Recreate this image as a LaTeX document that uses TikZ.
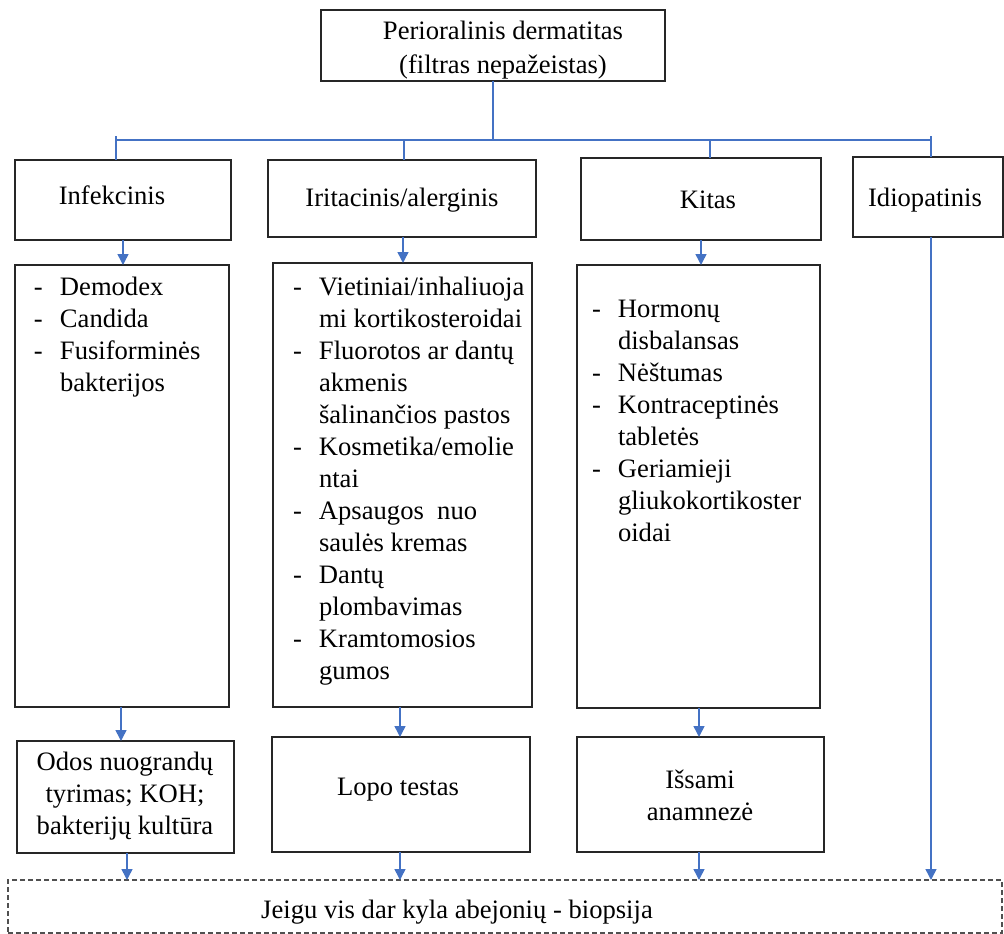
\documentclass[tikz,border=0pt]{standalone}
\usepackage{fontspec}
\setmainfont{Liberation Serif}
\usetikzlibrary{arrows.meta,calc}
\definecolor{lnblue}{HTML}{4472C4}
\definecolor{bord}{HTML}{262626}
\definecolor{dashc}{HTML}{505050}
\newcommand{\dsh}{\makebox[26pt][l]{-}}
\newcommand{\ind}{\hspace*{26pt}}
\begin{document}
\begin{tikzpicture}[x=1pt,y=-1pt,
  every node/.style={font=\fontsize{26.6}{32}\selectfont, inner sep=0pt, outer sep=0pt},
  box/.style={draw=bord, line width=1.5pt, rectangle},
  finbox/.style={draw=dashc, line width=1.3pt, dash pattern=on 5pt off 3pt, rectangle},
  conn/.style={draw=lnblue, line width=1.5pt},
  arr/.style={conn, -{Triangle[width=11pt,length=11pt]}},
  txt/.style={align=center},
  lst/.style={align=left, anchor=north west}]
\useasboundingbox (0,0) rectangle (1004,934);
% boxes
\node[box, minimum width=344pt, minimum height=71pt] (top) at (493,45.5) {};
\node[box, minimum width=216pt, minimum height=80pt] (inf) at (123,200) {};
\node[box, minimum width=268pt, minimum height=77pt] (irr) at (402,198.5) {};
\node[box, minimum width=240pt, minimum height=82pt] (kit) at (701,199) {};
\node[box, minimum width=150pt, minimum height=80pt] (idi) at (928,197) {};
\node[box, minimum width=214pt, minimum height=442pt] (l1) at (122,486) {};
\node[box, minimum width=259pt, minimum height=444pt] (l2) at (402.5,485) {};
\node[box, minimum width=243pt, minimum height=443pt] (l3) at (698.5,486.5) {};
\node[box, minimum width=217pt, minimum height=112pt] (b1) at (125.5,797) {};
\node[box, minimum width=258pt, minimum height=115pt] (b2) at (401,794.5) {};
\node[box, minimum width=247pt, minimum height=115pt] (b3) at (700.5,794.5) {};
\node[finbox, minimum width=994pt, minimum height=53pt] (fin) at (505,906.5) {};
% texts
\node[txt] (ttop) at (503,50.5) {Perioralinis dermatitas\\[2pt](filtras nepažeistas)};
\node[txt] (tinf) at (112,195) {Infekcinis};
\node[txt] (tirr) at (402,200) {Iritacinis/alerginis};
\node[txt] (tkit) at (708,200) {Kitas};
\node[txt] (tidi) at (925,200) {Idiopatinis};
\node[lst] (tl1) at (34,277) {\dsh Demodex\\\dsh Candida\\\dsh Fusiforminės\\\ind bakterijos};
\node[lst] (tl2) at (293,277) {\dsh Vietiniai/inhaliuoja\\\ind mi kortikosteroidai\\\dsh Fluorotos ar dantų\\\ind akmenis\\\ind šalinančios pastos\\\dsh Kosmetika/emolie\\\ind ntai\\\dsh Apsaugos\ \ nuo\\\ind saulės kremas\\\dsh Dantų\\\ind plombavimas\\\dsh Kramtomosios\\\ind gumos};
\node[lst] (tl3) at (592,300) {\dsh Hormonų\\\ind disbalansas\\\dsh Nėštumas\\\dsh Kontraceptinės\\\ind tabletės\\\dsh Geriamieji\\\ind gliukokortikoster\\\ind oidai};
\node[txt] (tb1) at (125,796) {Odos nuograndų\\tyrimas; KOH;\\bakterijų kultūra};
\node[txt] (tb2) at (398,790) {Lopo testas};
\node[txt] (tb3) at (700,795) {Išsami\\anamnezė};
\node[txt] (tfin) at (457,912) {Jeigu vis dar kyla abejonių - biopsija};
% connector coordinates
\coordinate (bus) at (0,140);
\coordinate (busTop) at (0,136);
\coordinate (xi) at (116,0);
\coordinate (xr) at (404,0);
\coordinate (xk) at (710,0);
\coordinate (xd) at (931,0);
\coordinate (a1) at (123,0);
\coordinate (a2) at (403,0);
\coordinate (a3) at (701,0);
\coordinate (c1) at (121,0);
\coordinate (c2) at (400,0);
\coordinate (c3) at (699,0);
\coordinate (d1) at (127,0);
\coordinate (d2) at (400,0);
\coordinate (d3) at (699,0);
% bus
\draw[conn] (top.south) -- (top.south |- bus);
\draw[conn] (xi |- bus) -- (xd |- bus);
\draw[conn] (xi |- busTop) -- (inf.north -| xi);
\draw[conn] (xr |- bus) -- (irr.north -| xr);
\draw[conn] (xk |- bus) -- (kit.north -| xk);
\draw[conn] (xd |- busTop) -- (idi.north -| xd);
% arrows
\draw[arr] (inf.south -| a1) -- (l1.north -| a1);
\draw[arr] (irr.south -| a2) -- (l2.north -| a2);
\draw[arr] (kit.south -| a3) -- (l3.north -| a3);
\draw[arr] (l1.south -| c1) -- (b1.north -| c1);
\draw[arr] (l2.south -| c2) -- (b2.north -| c2);
\draw[arr] (l3.south -| c3) -- (b3.north -| c3);
\draw[arr] (b1.south -| d1) -- (fin.north -| d1);
\draw[arr] (b2.south -| d2) -- (fin.north -| d2);
\draw[arr] (b3.south -| d3) -- (fin.north -| d3);
\draw[arr] (idi.south -| xd) -- (fin.north -| xd);
\end{tikzpicture}
\end{document}
